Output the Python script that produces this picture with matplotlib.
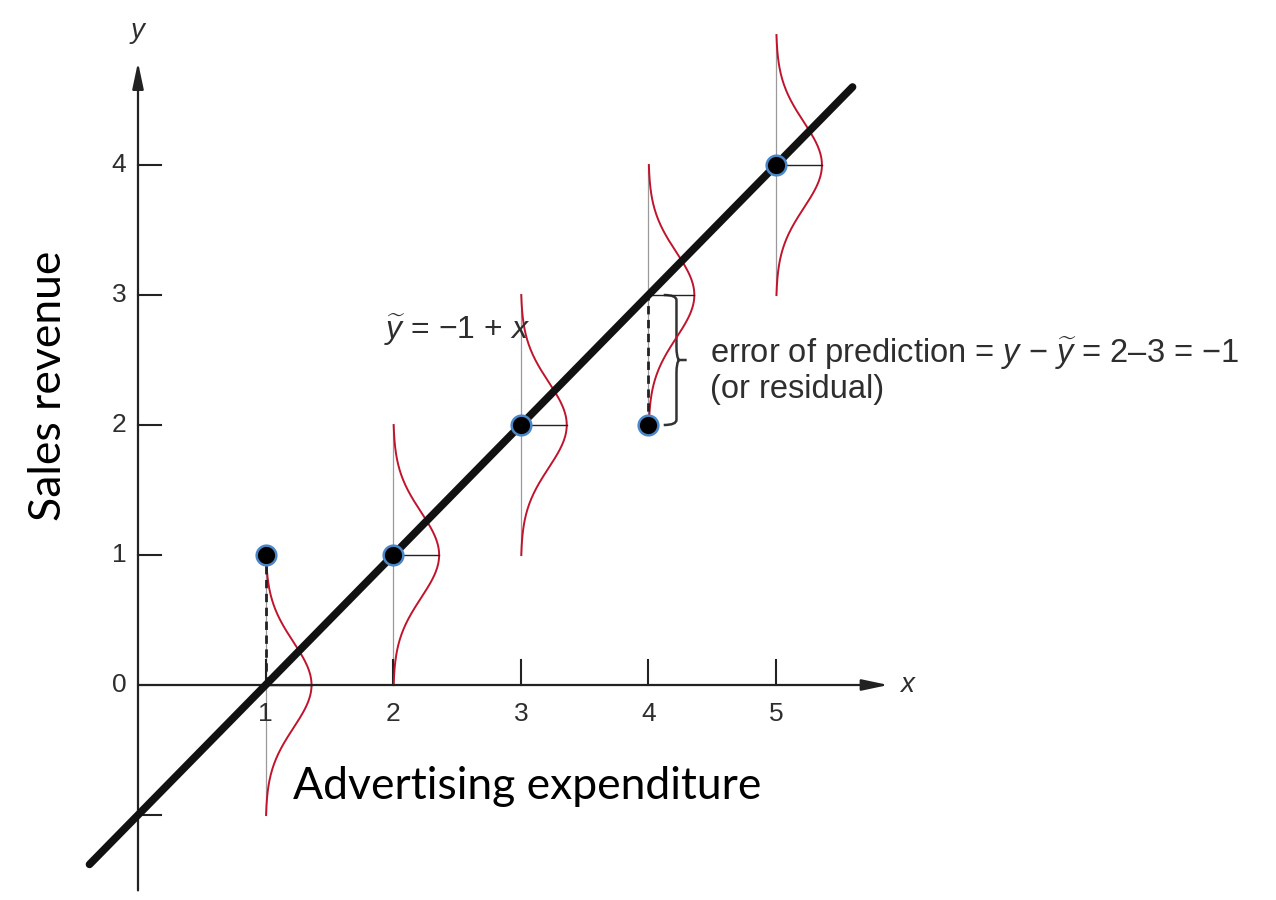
import numpy as np
import matplotlib
matplotlib.use("Agg")
import matplotlib.pyplot as plt
from matplotlib.path import Path
from matplotlib.patches import PathPatch

plt.rcParams['font.family'] = ['Liberation Sans', 'DejaVu Sans']
plt.rcParams['mathtext.fontset'] = 'custom'
plt.rcParams['mathtext.rm'] = 'Liberation Sans'
plt.rcParams['mathtext.it'] = 'Liberation Sans:italic'

# observed (advertising, sales) pairs and the fitted line y~ = -1 + x
adv = [1, 2, 3, 4, 5]
sales = [1, 1, 2, 2, 4]
intercept = -1
slope = 1
line_x = [-0.38, 5.6]
x_ticks = [1, 2, 3, 4, 5]
y_ticks = [-1, 1, 2, 3, 4]
y_tick_labels = ['0', '1', '2', '3', '4']

# error distribution drawn around each prediction
sigma = 0.33
peak = 0.36

TEXT = '#2e2e2e'
RED = '#c0142c'

fig = plt.figure(figsize=(12.76, 9), dpi=100)
ax = fig.add_axes([0, 0, 1, 1])
# pixel frame: x=0 at 138 px (127.6 px/unit), y=0 at 685 px (130 px/unit)
X0, SX, Y0, SY = 138, 127.6, 685, 130
ax.set_xlim(-X0 / SX, (1276 - X0) / SX)
ax.set_ylim((Y0 - 900) / SY, Y0 / SY)
ax.axis('off')

# axes with arrow heads
arrow = dict(arrowstyle='-|>,head_length=0.8,head_width=0.17', lw=1.6,
             color='#222222', mutation_scale=20, shrinkA=0, shrinkB=0)
ax.annotate('', xy=(0, 4.79), xytext=(0, -1.58), arrowprops=arrow)
ax.annotate('', xy=(5.88, 0), xytext=(0, 0), arrowprops=arrow)

for t in y_ticks:
    ax.plot([0, 0.18], [t, t], color='#222222', lw=1.5)
for t in x_ticks:
    ax.plot([t, t], [0, 0.19], color='#222222', lw=1.5)
    ax.text(t, -0.22, str(t), ha='center', va='center', fontsize=19, color=TEXT)
for t, lab in zip([0, 1, 2, 3, 4], y_tick_labels):
    ax.text(-0.15, t, lab, ha='center', va='center', fontsize=19, color=TEXT)

ax.text(0.0, 5.03, 'y', style='italic', fontsize=20, color=TEXT, ha='center', va='center')
ax.text(6.03, 0.0, 'x', style='italic', fontsize=20, color=TEXT, ha='center', va='center')

# normal curves around each predicted value
for xi, yi in zip(adv, sales):
    yhat = intercept + slope * xi
    yy = np.linspace(yhat - 1, yhat + 1, 200)
    off = peak * np.exp(-(yy - yhat) ** 2 / (2 * sigma ** 2))
    ax.plot([xi, xi], [yhat - 1, yhat + 1], color='#9a9a9a', lw=0.9, zorder=1)
    ax.plot(xi + off, yy, color=RED, lw=1.4, zorder=2)
    ax.plot([xi, xi + peak], [yhat, yhat], color='#222222', lw=1.0, zorder=2)
    if yi != yhat:
        ax.plot([xi, xi], [min(yi, yhat), max(yi, yhat)], color='#222222',
                lw=2.0, ls=(0, (3, 2)), zorder=3)

# fitted regression line
lx = np.array(line_x)
ax.plot(lx, intercept + slope * lx, color='#111111', lw=5.5,
        solid_capstyle='round', zorder=4)

ax.scatter(adv, sales, s=200, color='black', edgecolors='#4a86c8',
           linewidths=1.8, zorder=5)

ax.text(1.93, 2.73, r'$\widetilde{y}$ = −1 + $x$', fontsize=23, color=TEXT,
        ha='left', va='center')

# brace marking the residual at x = 4
bx, b_top, b_bot = 4.12, 3.0, 2.0
bm = (b_top + b_bot) / 2
w = 0.1
verts = [(bx, b_top), (bx + w, b_top), (bx + w, b_top - 0.04), (bx + w, bm + 0.1),
         (bx + w, bm + 0.02), (bx + w + 0.02, bm), (bx + 1.8 * w, bm),
         (bx + w + 0.02, bm), (bx + w, bm - 0.02), (bx + w, bm - 0.1),
         (bx + w, b_bot + 0.04), (bx + w, b_bot), (bx, b_bot)]
codes = [Path.MOVETO, Path.CURVE3, Path.CURVE3, Path.LINETO,
         Path.CURVE3, Path.CURVE3, Path.LINETO,
         Path.MOVETO, Path.CURVE3, Path.CURVE3,
         Path.LINETO, Path.CURVE3, Path.CURVE3]
ax.add_patch(PathPatch(Path(verts, codes), fill=False, lw=1.8, color='#333333'))

ax.text(4.48, 2.55, r'error of prediction = $y$ − $\widetilde{y}$ = 2–3 = −1',
        fontsize=23.5, color=TEXT, ha='left', va='center')
ax.text(4.48, 2.27, '(or residual)', fontsize=23.5, color=TEXT, ha='left', va='center')

ax.text(-0.7, 2.3, 'Sales revenue', family=['Lato', 'DejaVu Sans'], fontsize=32,
        rotation=90, ha='center', va='center', color='black')
ax.text(3.05, -0.78, 'Advertising expenditure', family=['Lato', 'DejaVu Sans'],
        fontsize=32, ha='center', va='center', color='black')

fig.savefig('out.png', dpi=100)
